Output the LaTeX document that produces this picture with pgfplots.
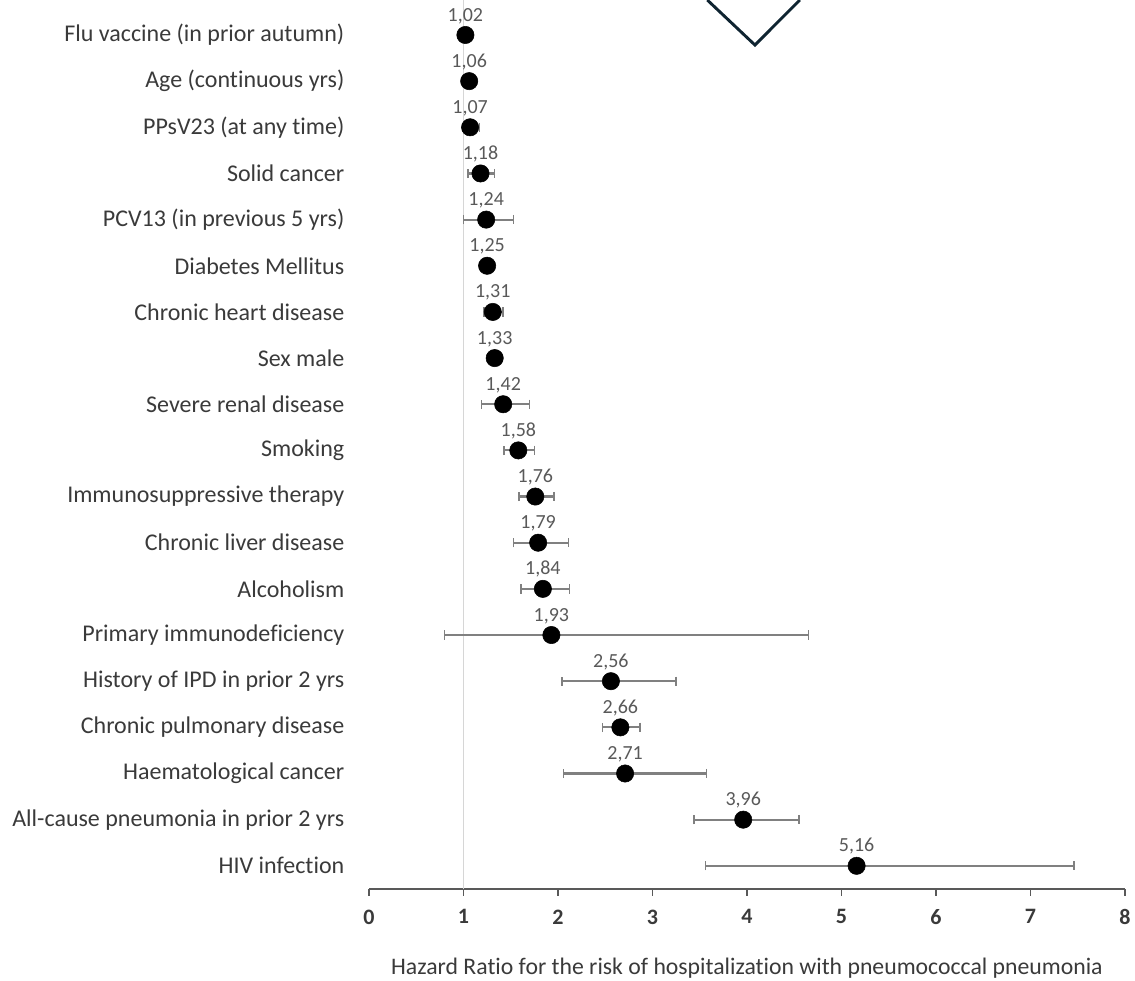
\documentclass[border=0pt]{standalone}
\usepackage{pgfplots}
\usepackage{pgfplotstable}
\pgfplotsset{compat=1.18}
\usepackage{fontspec}
\setmainfont{Carlito}[Ligatures=NoCommon]
\definecolor{labtxt}{HTML}{3A3A3A}
\definecolor{valtxt}{HTML}{595959}
\definecolor{errc}{HTML}{808080}
\definecolor{axc}{HTML}{595959}
\definecolor{refl}{HTML}{D6D6D6}
\definecolor{navy}{HTML}{0F2431}
\pgfplotstableread{
row hr lo hi
1 1.02 0.99 1.05
2 1.06 1.05 1.07
3 1.07 0.99 1.17
4 1.18 1.05 1.33
5 1.24 1.00 1.53
6 1.25 1.18 1.33
7 1.31 1.22 1.42
8 1.33 1.26 1.40
9 1.42 1.19 1.70
10 1.58 1.43 1.75
11 1.76 1.59 1.96
12 1.79 1.53 2.11
13 1.84 1.61 2.12
14 1.93 0.80 4.65
15 2.56 2.04 3.25
16 2.66 2.47 2.87
17 2.71 2.06 3.57
18 3.96 3.44 4.55
19 5.16 3.56 7.46
}\hrdata
\begin{document}
\begin{tikzpicture}
\begin{axis}[
  scale only axis,
  width=567pt, height=657.75pt,
  xmin=0, xmax=8,
  ymin=0.5, ymax=19.5,
  y dir=reverse,
  clip=false,
  axis x line=bottom,
  axis y line=left,
  x axis line style={-, draw=axc, line width=1.5pt},
  y axis line style={draw=none},
  xtick={0,...,8},
  tick align=outside,
  xtick style={draw=axc, line width=1pt},
  major tick length=5pt,
  xticklabel style={font=\bfseries\fontsize{16.5}{19}\selectfont, text=labtxt, yshift=-7pt},
  ytick={1,...,19},
  ytick style={draw=none},
  yticklabels={Flu vaccine (in prior autumn),Age (continuous yrs),PPsV23 (at any time),Solid cancer,PCV13 (in previous 5 yrs),Diabetes Mellitus,Chronic heart disease,Sex male,Severe renal disease,Smoking,Immunosuppressive therapy,Chronic liver disease,Alcoholism,Primary immunodeficiency,History of IPD in prior 2 yrs,Chronic pulmonary disease,Haematological cancer,All-cause pneumonia in prior 2 yrs,HIV infection},
  yticklabel style={font=\fontsize{18}{21}\selectfont, text=labtxt, xshift=-10pt},
  xlabel={Hazard Ratio for the risk of hospitalization with pneumococcal pneumonia},
  xlabel style={font=\fontsize{17.8}{21}\selectfont, text=labtxt, yshift=-18pt},
  /pgf/number format/assume math mode=true,
]
\addplot[refl, line width=1pt, forget plot] coordinates {(1,0.242) (1,19.5)};
\draw[navy, line width=2.2pt] (axis cs:3.58,0.242) -- (axis cs:4.084,1.217) -- (axis cs:4.56,0.242);
\addplot[
  only marks, mark=*, mark size=6.5pt, mark options={fill=black, draw=black},
  error bars/.cd, x dir=both, x explicit,
  error bar style={errc, line width=1.6pt},
  error mark options={errc, line width=1.2pt, rotate=90, mark size=3.5pt},
] table[x=hr, y=row,
  x error plus expr=\thisrow{hi}-\thisrow{hr},
  x error minus expr=\thisrow{hr}-\thisrow{lo}] {\hrdata};
\addplot[
  only marks, mark=none,
  nodes near coords, point meta=x,
  nodes near coords style={font=\fontsize{15}{17}\selectfont, text=valtxt, anchor=south, yshift=5pt,
    /pgf/number format/.cd, fixed, fixed zerofill, precision=2, use comma, assume math mode=true},
] table[x=hr, y=row] {\hrdata};
\coordinate (bl) at (axis cs:-3.905,21.49);
\coordinate (tr) at (axis cs:8.106,0.242);
\end{axis}
\pgfresetboundingbox
\path[use as bounding box] (bl) rectangle (tr);
\end{tikzpicture}
\end{document}
